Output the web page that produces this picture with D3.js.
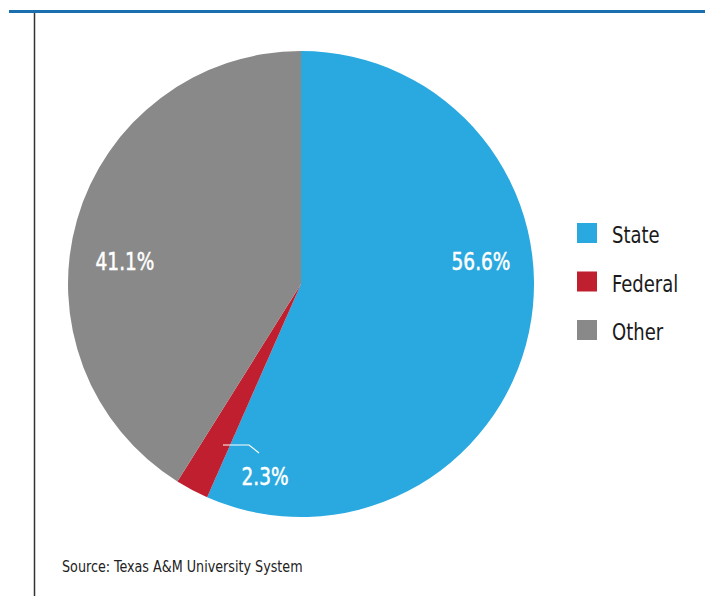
<!DOCTYPE html>
<html><head><meta charset="utf-8">
<script src="https://cdn.jsdelivr.net/npm/d3@7"></script>
<style>
html,body{margin:0;padding:0;background:#fff;}
svg{display:block;}
text{font-family:"DejaVu Sans Condensed","Liberation Sans Narrow","Roboto",sans-serif;}
</style></head><body>
<svg id="chart" width="705" height="596"></svg>
<script>
const categories = ["State", "Federal", "Other"];
const values = [56.6, 2.3, 41.1];
const labels = ["56.6%", "2.3%", "41.1%"];
const colors = ["#29a9e0", "#c01f2f", "#898989"];
const source = "Source: Texas A&M University System";

const svg = d3.select("#chart");
function condense(sel, k) {
  sel.each(function () {
    const w = this.getComputedTextLength();
    d3.select(this).attr("textLength", w * k).attr("lengthAdjust", "spacingAndGlyphs");
  });
}
// frame lines
svg.append("line").attr("x1", 9).attr("x2", 705).attr("y1", 11.5).attr("y2", 11.5)
  .attr("stroke", "#1a6fae").attr("stroke-width", 3);
svg.append("line").attr("x1", 34.5).attr("x2", 34.5).attr("y1", 13).attr("y2", 596)
  .attr("stroke", "#333").attr("stroke-width", 1.5);

const cx = 301, cy = 284, r = 233;
const pie = d3.pie().sort(null).value(d => d.v);
const data = categories.map((c, i) => ({c, v: values[i], label: labels[i], color: colors[i]}));
const arcs = pie(data);
const arc = d3.arc().innerRadius(0).outerRadius(r);
const g = svg.append("g").attr("transform", `translate(${cx},${cy})`);
g.selectAll("path").data(arcs).join("path")
  .attr("d", arc).attr("fill", d => d.data.color);

const labelPos = {State: [180, -14], Federal: [-36, 201], Other: [-176, -14]};
const labs = g.selectAll("text.lab").data(arcs).join("text").attr("class", "lab")
  .attr("x", d => labelPos[d.data.c][0]).attr("y", d => labelPos[d.data.c][1])
  .attr("text-anchor", "middle").attr("fill", "#fff")
  .attr("font-size", 24.5).attr("font-weight", "normal")
  .style("stroke", "#fff").style("stroke-width", 0.5)
  .text(d => d.data.label);
condense(labs, 0.84);

g.append("polyline")
  .attr("points", [[-78, 161], [-52, 161], [-42, 169]].map(p => p.join(",")).join(" "))
  .attr("fill", "none").attr("stroke", "#fff").attr("stroke-width", 1.2);

const lg = svg.append("g").attr("transform", "translate(577,223)");
const items = lg.selectAll("g").data(data).join("g")
  .attr("transform", (d, i) => `translate(0,${i * 48.5})`);
items.append("rect").attr("width", 20).attr("height", 20).attr("fill", d => d.color);
const lt = items.append("text").attr("x", 35).attr("y", 20).attr("font-size", 23)
  .attr("fill", "#1a1a1a").text(d => d.c);
condense(lt, 0.87);

const st = svg.append("text").attr("x", 62).attr("y", 572).attr("font-size", 16)
  .attr("fill", "#222").text(source);
condense(st, 0.885);
</script>
</body></html>
